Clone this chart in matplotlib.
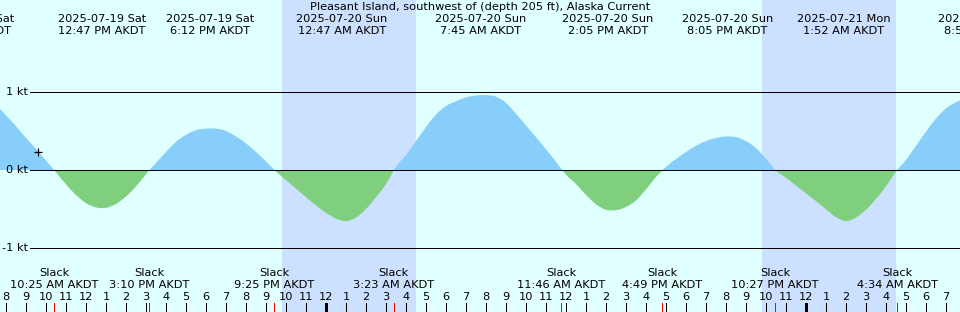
import matplotlib
matplotlib.use("Agg")
import matplotlib.pyplot as plt
from matplotlib.path import Path
from matplotlib.patches import PathPatch, Rectangle
import numpy as np

# ---------------- data ----------------
title = "Pleasant Island, southwest of (depth 205 ft), Alaska Current"

# current speed (kt) sampled every 30 min, hours since 2025-07-19 00:00 AKDT
start_hour = 7.5
sample_step = 0.5
speed_kt = [
    0.84, 0.70, 0.56, 0.41, 0.27, 0.12,                      # 7.5 - 10.0
    -0.03, -0.185, -0.32, -0.425, -0.48,                      # 10.5 - 12.5
    -0.485, -0.435, -0.34, -0.21, -0.055,                     # 13.0 - 15.0
    0.09, 0.23, 0.36, 0.45, 0.51, 0.53,                       # 15.5 - 18.0
    0.53, 0.50, 0.43, 0.34, 0.23, 0.11,                       # 18.5 - 21.0
    -0.02, -0.13, -0.24, -0.35, -0.455, -0.55, -0.625,        # 21.5 - 24.5
    -0.655, -0.61, -0.50, -0.35, -0.18,                       # 25.0 - 27.0
    0.04, 0.19, 0.37, 0.55, 0.71, 0.82, 0.88, 0.93, 0.955,    # 27.5 - 31.5
    0.96, 0.94, 0.86, 0.72, 0.57, 0.42, 0.265, 0.105,         # 32.0 - 35.5
    -0.06, -0.18, -0.32, -0.44, -0.51,                        # 36.0 - 38.0
    -0.515, -0.475, -0.39, -0.25, -0.09,                      # 38.5 - 40.5
    0.04, 0.14, 0.23, 0.31, 0.37, 0.41, 0.43,                 # 41.0 - 44.0
    0.42, 0.37, 0.28, 0.14,                                   # 44.5 - 46.0
    -0.01, -0.10, -0.20, -0.30, -0.40, -0.505, -0.605,        # 46.5 - 49.5
    -0.655, -0.61, -0.51, -0.37, -0.21, -0.02,                # 50.0 - 52.5
    0.13, 0.31, 0.49, 0.66, 0.79, 0.87, 0.92,                 # 53.0 - 56.0
]

# max flood / max ebb events (top labels)
event_hours = [6.23, 12.783, 18.2, 24.783, 31.75, 38.083, 44.083, 49.867, 56.95]
event_dates = ["2025-07-19 Sat", "2025-07-19 Sat", "2025-07-19 Sat",
               "2025-07-20 Sun", "2025-07-20 Sun", "2025-07-20 Sun",
               "2025-07-20 Sun", "2025-07-21 Mon", "2025-07-21 Mon"]
event_times = ["6:14 AM AKDT", "12:47 PM AKDT", "6:12 PM AKDT",
               "12:47 AM AKDT", "7:45 AM AKDT", "2:05 PM AKDT",
               "8:05 PM AKDT", "1:52 AM AKDT", "8:57 AM AKDT"]

# slack events (bottom labels)
slack_hours = [10.417, 15.167, 21.417, 27.383, 35.767, 40.817, 46.45, 52.567]
slack_times = ["10:25 AM AKDT", "3:10 PM AKDT", "9:25 PM AKDT", "3:23 AM AKDT",
               "11:46 AM AKDT", "4:49 PM AKDT", "10:27 PM AKDT", "4:34 AM AKDT"]

# night (sunset -> sunrise)
night_start = [21.8, 45.8]
night_end = [28.5, 52.5]

# "now" marker
now_hour = 9.6
now_speed = 0.23

# y grid levels
level_values = [1, 0, -1]
level_labels = ["1 kt", "0 kt", "-1 kt"]

# ---------------- figure ----------------
W, H = 960, 312
fig = plt.figure(figsize=(W / 100, H / 100), dpi=100)
ax = fig.add_axes([0, 0, 1, 1])
x_min, x_max = 7.7, 55.7
y_min, y_max = -1.821, 2.179
ax.set_xlim(x_min, x_max)
ax.set_ylim(y_min, y_max)
ax.set_axis_off()

bg = "#E0FFFF"
night_col = "#CCE0FF"
flood_col = "#87CEFA"
ebb_col = "#7FCF7F"
fig.patch.set_facecolor(bg)
ax.set_facecolor(bg)

for s, e in zip(night_start, night_end):
    ax.axvspan(s, e, color=night_col, lw=0, zorder=0)

# smooth (Catmull-Rom style Bezier) outline through the sampled points,
# closed along the zero line; clipped above/below zero for flood/ebb colours
hours = start_hour + sample_step * np.arange(len(speed_kt))
pts = np.column_stack([hours, np.array(speed_kt)])
verts = [(pts[0, 0], 0.0), tuple(pts[0])]
codes = [Path.MOVETO, Path.LINETO]
n = len(pts)
for i in range(n - 1):
    p0 = pts[max(i - 1, 0)]
    p1 = pts[i]
    p2 = pts[i + 1]
    p3 = pts[min(i + 2, n - 1)]
    c1 = p1 + (p2 - p0) / 6.0
    c2 = p2 - (p3 - p1) / 6.0
    verts += [tuple(c1), tuple(c2), tuple(p2)]
    codes += [Path.CURVE4] * 3
verts += [(pts[-1, 0], 0.0), (pts[0, 0], 0.0)]
codes += [Path.LINETO, Path.CLOSEPOLY]
curve_path = Path(verts, codes)

for col, y0, y1 in [(flood_col, 0, y_max), (ebb_col, y_min, 0)]:
    patch = PathPatch(curve_path, facecolor=col, edgecolor="none", lw=0, zorder=1)
    ax.add_patch(patch)
    clip = Rectangle((x_min - 5, y0), (x_max - x_min) + 10, y1 - y0,
                     transform=ax.transData, visible=False)
    ax.add_patch(clip)
    patch.set_clip_path(clip)

one_px = 0.72  # line width in points equal to one pixel at 100 dpi
px = (x_max - x_min) / W  # hours per pixel
fs = 8.2
for v, lab in zip(level_values, level_labels):
    ax.hlines(v, x_min + 30 * px, x_max, color="black", lw=one_px,
              antialiased=False, zorder=2)
    ax.text(x_min + 28 * px, v, lab, ha="right", va="center", fontsize=fs, zorder=3)

ax.plot([now_hour], [now_speed], marker="+", color="black", ms=6, mew=0.9, zorder=4)

tr = ax.get_xaxis_transform()


def yf(py):
    return 1 - py / H


ax.text(0.5, yf(7.5), title, transform=ax.transAxes, ha="center", va="center",
        fontsize=fs, zorder=5)
for h, d, tm in zip(event_hours, event_dates, event_times):
    ax.text(h, yf(19.5), d, transform=tr, ha="center", va="center", fontsize=fs, zorder=5)
    ax.text(h, yf(31.5), tm, transform=tr, ha="center", va="center", fontsize=fs, zorder=5)

for hr in range(8, 56):
    lab = str(hr % 12 if hr % 12 else 12)
    is_mid = (hr % 24 == 0)
    ax.vlines(hr, 0, yf(303), transform=tr, color="black",
              lw=3 * one_px if is_mid else one_px, antialiased=False, zorder=5)
    ax.text(hr, yf(297.5), lab, transform=tr, ha="center", va="center", fontsize=fs, zorder=5)

for h, tm in zip(slack_hours, slack_times):
    ax.text(h, yf(273.5), "Slack", transform=tr, ha="center", va="center", fontsize=fs, zorder=5)
    ax.text(h, yf(285.5), tm, transform=tr, ha="center", va="center", fontsize=fs, zorder=5)
    ax.vlines(h, 0, yf(303), transform=tr, color="red", lw=one_px,
              antialiased=False, zorder=6)

fig.savefig("out.png", dpi=100, facecolor=bg)
